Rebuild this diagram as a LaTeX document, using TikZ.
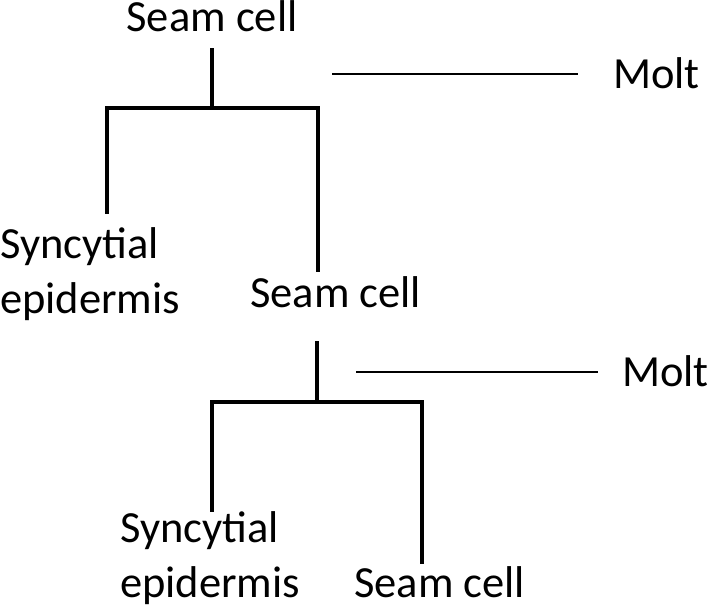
\documentclass[tikz,border=0pt]{standalone}
\usepackage{fontspec}
\setmainfont{Carlito}
\begin{document}
\begin{tikzpicture}[x=1pt,y=-1pt,
  lbl/.style={inner sep=0pt, font=\fontsize{44.5}{55}\selectfont},
  tree/.style={line width=3.2pt, line cap=rect},
  molt/.style={line width=1.6pt}]
\useasboundingbox (0,0) rectangle (711,607);
% labels
\node[lbl, anchor=base] (s0) at (212,32) {Seam cell};
\node[lbl, anchor=base west, align=left] (e1) at (0,313) {Syncytial\\epidermis};
\node[lbl, anchor=base west] (s1) at (250,307) {Seam cell};
\node[lbl, anchor=base west, align=left] (e2) at (120,597) {Syncytial\\epidermis};
\node[lbl, anchor=base west] (s2) at (354,597) {Seam cell};
\node[lbl, anchor=base west] (m1) at (613,89) {Molt};
\node[lbl, anchor=base west] (m2) at (622,386) {Molt};
% coordinates
\coordinate (a0) at (212,50);
\coordinate (a1) at (212,108);
\coordinate (l1) at (107,108);
\coordinate (r1) at (318,108);
\coordinate (l1e) at (107,212);
\coordinate (r1e) at (318,270);
\coordinate (b0) at (317,343);
\coordinate (b1) at (317,402);
\coordinate (l2) at (212,402);
\coordinate (r2) at (422,402);
\coordinate (l2e) at (212,510);
\coordinate (r2e) at (422,562);
\coordinate (ma) at (332,74);
\coordinate (mb) at (578,74);
\coordinate (mc) at (356,372);
\coordinate (md) at (598,372);
% tree
\draw[tree] (a0) -- (a1);
\draw[tree] (l1e) -- (l1) -- (r1) -- (r1e);
\draw[tree] (b0) -- (b1);
\draw[tree] (l2e) -- (l2) -- (r2) -- (r2e);
\draw[molt] (ma) -- (mb);
\draw[molt] (mc) -- (md);
\end{tikzpicture}
\end{document}
